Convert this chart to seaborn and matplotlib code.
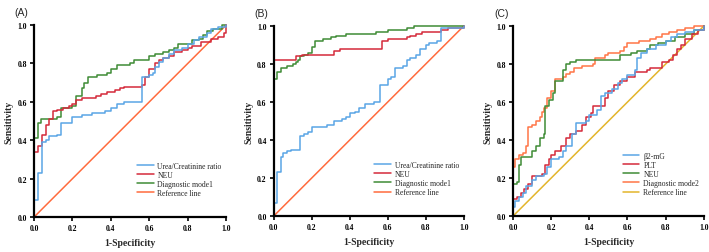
"""
Three ROC panels (A, B, C): step curves for each marker plus the diagonal reference line.
"""

import numpy as np
import pandas as pd
import matplotlib
matplotlib.use("Agg")
import matplotlib.pyplot as plt
import seaborn as sns

# ---- data (fpr where each vertical step happens, tpr after the step) ----
# Panel A
a_urea_fpr = [0, 0, 0.02, 0.04, 0.06, 0.08, 0.12, 0.14, 0.20, 0.25, 0.30, 0.37, 0.40, 0.43, 0.47,
              0.56, 0.60, 0.62, 0.63, 0.65, 0.67, 0.70, 0.73, 0.77, 0.80, 0.83, 0.86, 0.90, 0.92, 0.96, 1.0]
a_urea_tpr = [0, 0.09, 0.23, 0.39, 0.40, 0.42, 0.43, 0.49, 0.52, 0.53, 0.54, 0.55, 0.57, 0.59, 0.60,
              0.73, 0.74, 0.75, 0.78, 0.81, 0.83, 0.85, 0.87, 0.88, 0.90, 0.92, 0.94, 0.96, 0.98, 0.99, 1.0]
a_neu_fpr = [0, 0, 0.02, 0.04, 0.06, 0.08, 0.10, 0.12, 0.15, 0.18, 0.20, 0.22, 0.25, 0.32, 0.35, 0.38,
             0.42, 0.45, 0.47, 0.56, 0.58, 0.60, 0.63, 0.65, 0.67, 0.70, 0.73, 0.77, 0.80, 0.82, 0.87,
             0.92, 0.96, 0.99, 1.0]
a_neu_tpr = [0, 0.34, 0.37, 0.43, 0.48, 0.51, 0.55, 0.56, 0.57, 0.58, 0.59, 0.61, 0.62, 0.63, 0.64, 0.65,
             0.66, 0.67, 0.675, 0.69, 0.73, 0.77, 0.80, 0.82, 0.83, 0.84, 0.86, 0.87, 0.88, 0.89, 0.91,
             0.93, 0.94, 0.96, 1.0]
a_mode_fpr = [0, 0, 0.02, 0.035, 0.12, 0.14, 0.20, 0.22, 0.25, 0.26, 0.28, 0.33, 0.38, 0.40, 0.43,
              0.50, 0.52, 0.60, 0.63, 0.67, 0.70, 0.73, 0.75, 0.82, 0.86, 0.88, 0.90, 0.93, 0.98, 1.0]
a_mode_tpr = [0, 0.41, 0.49, 0.51, 0.52, 0.57, 0.58, 0.63, 0.67, 0.70, 0.73, 0.74, 0.75, 0.77, 0.79,
              0.80, 0.82, 0.84, 0.85, 0.86, 0.87, 0.88, 0.90, 0.92, 0.93, 0.95, 0.97, 0.98, 1.0, 1.0]

# Panel B
b_urea_fpr = [0, 0, 0.02, 0.04, 0.05, 0.07, 0.09, 0.14, 0.16, 0.18, 0.20, 0.28, 0.32, 0.36, 0.38, 0.40,
              0.43, 0.45, 0.48, 0.53, 0.56, 0.60, 0.62, 0.64, 0.68, 0.70, 0.72, 0.75, 0.77, 0.80, 0.82,
              0.86, 0.88, 1.0]
b_urea_tpr = [0, 0.07, 0.23, 0.31, 0.33, 0.34, 0.35, 0.42, 0.43, 0.44, 0.47, 0.48, 0.50, 0.51, 0.52, 0.54,
              0.55, 0.57, 0.59, 0.60, 0.69, 0.72, 0.73, 0.78, 0.79, 0.82, 0.83, 0.85, 0.88, 0.90, 0.91,
              0.92, 0.99, 1.0]
b_neu_fpr = [0, 0, 0.12, 0.15, 0.32, 0.35, 0.57, 0.60, 0.70, 0.72, 0.75, 0.78, 0.88, 0.92, 1.0]
b_neu_tpr = [0, 0.82, 0.84, 0.85, 0.87, 0.88, 0.92, 0.93, 0.94, 0.95, 0.96, 0.97, 0.98, 0.99, 1.0]
b_mode_fpr = [0, 0, 0.02, 0.04, 0.07, 0.10, 0.12, 0.13, 0.14, 0.16, 0.18, 0.20, 0.22, 0.26, 0.30, 0.33,
              0.38, 0.54, 0.60, 0.70, 0.74, 1.0]
b_mode_tpr = [0, 0.72, 0.76, 0.78, 0.79, 0.80, 0.81, 0.82, 0.84, 0.85, 0.86, 0.89, 0.92, 0.93, 0.94, 0.95,
              0.96, 0.97, 0.98, 0.99, 1.0, 1.0]

# Panel C
c_b2m_fpr = [0, 0, 0.01, 0.03, 0.05, 0.07, 0.10, 0.12, 0.16, 0.18, 0.20, 0.24, 0.26, 0.28, 0.31, 0.33,
             0.38, 0.40, 0.44, 0.46, 0.48, 0.52, 0.55, 0.57, 0.60, 0.64, 0.65, 0.67, 0.70, 0.75, 0.80,
             0.83, 0.86, 0.90, 0.95, 1.0]
c_b2m_tpr = [0, 0.05, 0.08, 0.10, 0.12, 0.16, 0.19, 0.21, 0.22, 0.26, 0.30, 0.31, 0.34, 0.37, 0.43, 0.49,
             0.50, 0.53, 0.56, 0.63, 0.65, 0.67, 0.70, 0.72, 0.74, 0.77, 0.83, 0.86, 0.88, 0.90, 0.92,
             0.94, 0.96, 0.97, 0.98, 1.0]
c_plt_fpr = [0, 0, 0.02, 0.04, 0.06, 0.08, 0.10, 0.15, 0.17, 0.19, 0.20, 0.22, 0.25, 0.28, 0.30, 0.33,
             0.36, 0.38, 0.41, 0.42, 0.48, 0.50, 0.53, 0.56, 0.60, 0.64, 0.70, 0.72, 0.78, 0.82, 0.84,
             0.86, 0.88, 0.90, 0.94, 0.97, 1.0]
c_plt_tpr = [0, 0.09, 0.10, 0.12, 0.14, 0.17, 0.21, 0.22, 0.27, 0.30, 0.32, 0.34, 0.37, 0.41, 0.43, 0.45,
             0.48, 0.52, 0.54, 0.58, 0.62, 0.66, 0.69, 0.71, 0.73, 0.76, 0.77, 0.78, 0.81, 0.82, 0.85,
             0.88, 0.90, 0.93, 0.96, 0.98, 1.0]
c_neu_fpr = [0, 0, 0.02, 0.03, 0.04, 0.10, 0.12, 0.14, 0.16, 0.17, 0.19, 0.21, 0.22, 0.26, 0.28, 0.30,
             0.33, 0.56, 0.62, 0.65, 0.70, 0.72, 0.76, 0.80, 0.85, 0.90, 0.95, 1.0]
c_neu_tpr = [0, 0.17, 0.18, 0.27, 0.31, 0.34, 0.37, 0.41, 0.43, 0.58, 0.61, 0.65, 0.71, 0.77, 0.80, 0.81,
             0.82, 0.85, 0.86, 0.87, 0.88, 0.90, 0.91, 0.92, 0.94, 0.96, 0.98, 1.0]
c_mode_fpr = [0, 0, 0.01, 0.03, 0.05, 0.07, 0.08, 0.10, 0.12, 0.14, 0.15, 0.16, 0.18, 0.20, 0.22, 0.26,
              0.28, 0.30, 0.32, 0.36, 0.42, 0.43, 0.48, 0.50, 0.56, 0.58, 0.60, 0.66, 0.72, 0.75, 0.78,
              0.82, 0.86, 0.90, 0.95, 1.0]
c_mode_tpr = [0, 0.26, 0.30, 0.32, 0.33, 0.37, 0.47, 0.48, 0.50, 0.52, 0.55, 0.57, 0.62, 0.66, 0.72, 0.73,
              0.75, 0.76, 0.78, 0.79, 0.80, 0.83, 0.85, 0.86, 0.87, 0.89, 0.91, 0.92, 0.93, 0.94, 0.96,
              0.97, 0.98, 0.99, 1.0, 1.0]

ref_fpr = [0, 1]
ref_tpr = [0, 1]

BLUE, RED, GREEN = "#5aa5e6", "#d42a3a", "#3f8b35"
ORANGE, ORANGE_C, YELLOW = "#ff6b3d", "#ff7547", "#e3b52b"

panels = [
    ("(A)", [("Urea/Creatinine ratio", a_urea_fpr, a_urea_tpr, BLUE),
             ("NEU", a_neu_fpr, a_neu_tpr, RED),
             ("Diagnostic mode1", a_mode_fpr, a_mode_tpr, GREEN),
             ("Reference line", ref_fpr, ref_tpr, ORANGE)],
     [0.048, 0.138, 0.271, 0.759]),
    ("(B)", [("Urea/Creatinine ratio", b_urea_fpr, b_urea_tpr, BLUE),
             ("NEU", b_neu_fpr, b_neu_tpr, RED),
             ("Diagnostic mode1", b_mode_fpr, b_mode_tpr, GREEN),
             ("Reference line", ref_fpr, ref_tpr, ORANGE)],
     [0.386, 0.142, 0.268, 0.751]),
    ("(C)", [("β2-mG", c_b2m_fpr, c_b2m_tpr, BLUE),
             ("PLT", c_plt_fpr, c_plt_tpr, RED),
             ("NEU", c_neu_fpr, c_neu_tpr, GREEN),
             ("Diagnostic mode2", c_mode_fpr, c_mode_tpr, ORANGE_C),
             ("Reference line", ref_fpr, ref_tpr, YELLOW)],
     [0.7236, 0.142, 0.269, 0.751]),
]

sns.set_style("ticks")
plt.rcParams["font.family"] = ["Liberation Serif", "DejaVu Serif"]

fig = plt.figure(figsize=(7.09, 2.53), dpi=100)

for label, curves, pos in panels:
    ax = fig.add_axes(pos)
    rows = []
    for name, fpr, tpr, _ in curves:
        for x, y in zip(fpr, tpr):
            rows.append({"fpr": x, "tpr": y, "curve": name})
    df = pd.DataFrame(rows)
    palette = {name: c for name, _, _, c in curves}
    hue_order = [c[0] for c in curves]
    # reference line first (straight), then the step curves on top
    for name in hue_order[::-1]:
        sub = df[df["curve"] == name]
        style = "default" if name == "Reference line" else "steps-post"
        sns.lineplot(data=sub, x="fpr", y="tpr", color=palette[name], label=name,
                     estimator=None, sort=False, drawstyle=style,
                     linewidth=1.1, ax=ax, clip_on=False)
    handles, labels = ax.get_legend_handles_labels()
    ax.legend(handles[::-1], labels[::-1], loc="lower right", bbox_to_anchor=(1.0, 0.08),
              frameon=False, fontsize=5.5, handlelength=2.2, handletextpad=0.5,
              labelspacing=0.15, borderaxespad=0.2)

    ax.set_xlim(0, 1)
    ax.set_ylim(0, 1)
    ticks = [0, 0.2, 0.4, 0.6, 0.8, 1.0]
    ax.set_xticks(ticks)
    ax.set_yticks(ticks)
    ax.set_xticklabels([f"{t:.1f}" for t in ticks], fontweight="bold", fontsize=5.5)
    ax.set_yticklabels([f"{t:.1f}" for t in ticks], fontweight="bold", fontsize=5.5)
    ax.tick_params(direction="out", length=3, width=1.2, pad=2, colors="black")
    for side in ["left", "bottom"]:
        ax.spines[side].set_linewidth(1.6)
        ax.spines[side].set_color("black")
    sns.despine(ax=ax)
    ax.set_xlabel("1-Specificity", fontweight="bold", fontsize=7, labelpad=4)
    ax.set_ylabel("Sensitivity", fontweight="bold", fontsize=7, labelpad=3)
    ax.text(-0.1, 1.07, label, transform=ax.transAxes, fontsize=7.5,
            family=["Liberation Sans", "DejaVu Sans"], ha="left", va="center")

fig.savefig("out.png", dpi=100)
